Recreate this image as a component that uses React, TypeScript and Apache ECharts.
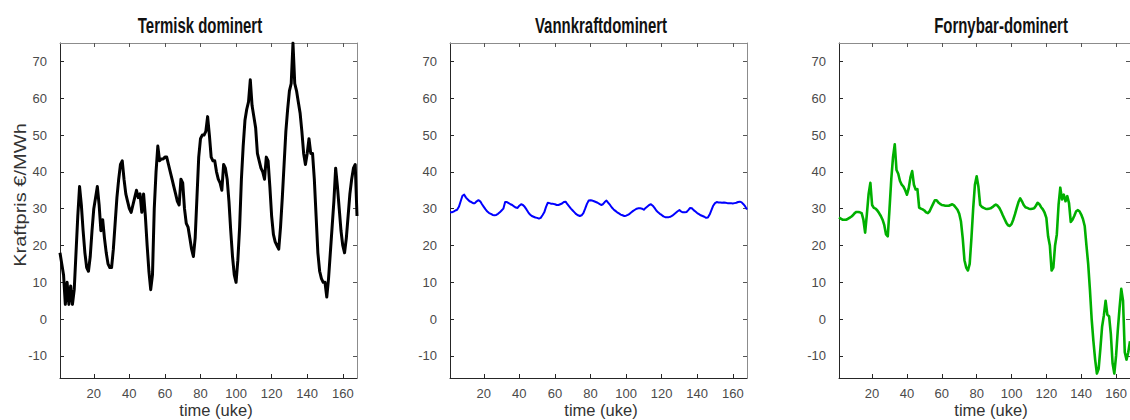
import React, { useEffect, useRef } from "react";
import * as echarts from "echarts";

const weeks: number[] = Array.from({ length: 168 }, (_, i) => i + 1);

const titles = ["Termisk dominert", "Vannkraftdominert", "Fornybar-dominert"];
const xTicks = [20, 40, 60, 80, 100, 120, 140, 160];
const yTicks = [-10, 0, 10, 20, 30, 40, 50, 60, 70];
const xName = "time (uke)";
const yName = "Kraftpris €/MWh";

const termisk = [
  18, 15, 12, 4, 10, 4, 9, 4, 8, 18, 28, 36, 31, 24, 18, 14, 13, 17, 24, 30,
  33, 36, 31, 24, 27, 22, 18, 15, 14, 14, 19, 26, 33, 38, 42, 43, 38, 34, 32, 30,
  29, 31, 33, 35, 33, 34, 29, 34, 28, 20, 13, 8, 12, 30, 40, 47, 43, 43.5, 43.5, 44,
  44, 42, 40, 38, 36, 34, 32, 31, 38, 37, 30, 26, 25, 22, 19, 17, 22, 33, 44, 49,
  50, 50, 51, 55, 50, 44, 43, 43, 40, 38, 37, 35, 42, 41, 38, 32, 24, 17, 12, 10,
  16, 25, 38, 47, 54, 57, 59, 65, 58, 55, 52, 45, 43, 41, 40, 38, 44, 43, 36, 28,
  23, 21, 20, 19, 25, 33, 42, 51, 57, 62, 64, 75, 64, 62, 59, 56, 51, 45, 42, 45,
  49, 45, 45, 38, 28, 18, 13, 11, 10, 10, 6, 11, 18, 25, 32, 41, 36, 30, 24, 20,
  18, 22, 28, 34, 38, 41, 42, 28,
];

const vannkraft = [
  29, 29, 29.2, 29.5, 29.7, 30.5, 32, 33.5, 33.8, 33, 32.5, 32, 31.8, 31.5, 31.5, 32, 32.3, 32, 31.2, 30.5,
  29.8, 29.2, 28.8, 28.6, 28.3, 28.2, 28.3, 28.6, 29, 29.5, 30, 31.8, 31.8, 31.5, 31.2, 31, 30.6, 30.3, 30.2, 30.8,
  31.2, 31, 30.5, 29.8, 29, 28.4, 28, 27.8, 27.6, 27.5, 27.3, 27.5, 28.2, 29, 30.5, 31.6, 31.5, 31.3, 31.3, 31.2,
  31, 31, 31.2, 31.4, 31.8, 31.9, 31.2, 30.6, 30, 29.5, 29, 28.5, 28.2, 28, 28.2, 28.8, 30, 31.3, 32.2, 32.3,
  32.2, 32, 31.8, 31.6, 31.3, 31, 31.2, 31.8, 32.2, 31.6, 31, 30.3, 29.8, 29.4, 29, 28.7, 28.4, 28.2, 28, 28.1,
  28.3, 28.6, 29, 29.4, 29.7, 30, 30.1, 30.1, 30, 29.7, 30.2, 30.6, 31, 31.2, 30.8, 30.2, 29.5, 29, 28.6, 28.3,
  27.9, 27.7, 27.7, 27.7, 27.8, 28.1, 28.5, 28.9, 29.3, 29.6, 29.2, 29, 29, 29.1, 29.6, 30.2, 30.1, 29.6, 29.2, 28.8,
  28.5, 28.2, 28, 27.8, 27.5, 27.6, 28.4, 29.6, 30.8, 31.5, 31.8, 31.7, 31.7, 31.6, 31.7, 31.6, 31.5, 31.5, 31.5, 31.4,
  31.5, 31.6, 31.8, 31.9, 31.7, 31.2, 30.6, 29.8,
];

const fornybar = [
  27.6, 27.3, 27, 27, 27, 27.2, 27.5, 27.8, 28.2, 28.8, 29.1, 29.1, 29, 28.8, 27, 23.5, 28.5, 34, 37, 31,
  30.2, 30, 29.5, 28.8, 28, 27, 25.5, 23, 22.5, 30, 38, 44, 47.5, 40.5, 39.5, 37.5, 36.5, 36, 35, 33.8,
  35.5, 38.5, 40.2, 36.5, 35.2, 35.3, 30.3, 30, 29.8, 29.5, 29, 28.8, 29.3, 30.3, 31.3, 32.3, 32.3, 31.7, 31.3, 31,
  30.9, 30.8, 30.8, 30.8, 31, 31.2, 30.9, 30.3, 29.7, 28.6, 26.5, 22, 16, 14, 13.2, 15, 22, 30, 36.5, 38.8,
  36, 31, 30.5, 30.2, 30, 29.9, 30, 30.1, 30.4, 30.8, 31.1, 30.8, 30.2, 29.3, 28.2, 27.2, 26.2, 25.5, 25.3, 25.8,
  27, 28.5, 30.2, 31.8, 32.8, 32, 31, 30.4, 30.2, 30, 29.9, 30, 30.1, 30.8, 31.6, 31.2, 30.4, 29.8, 28.9, 27.5,
  22.5, 20, 13.2, 14, 20, 23, 31, 35.7, 32.5, 33.8, 32, 33.4, 31.5, 26.4, 27, 28, 29.2, 29.6, 29.3, 28.4,
  27.2, 25.3, 20, 15, 8, 0, -6, -11, -14.8, -13.5, -8, -2, 1, 5, 1.2, 0.8, -4, -12, -14.8, -10,
  -3, 3, 8.2, 5, -9, -11, -9, -6,
];

const seriesValues = [termisk, vannkraft, fornybar];
const colors = ["#000000", "#0000ff", "#00b000"];
const widths = [3, 2, 2.6];

const gridLefts = [60, 450, 839];
const gridWidth = 297;
const gridTop = 43;
const gridHeight = 335;
const titleCenters = [200, 601, 1001];
const xNameCenters = [216, 601, 991];

export default function App() {
  const ref = useRef<HTMLDivElement>(null);
  useEffect(() => {
    if (!ref.current) return;
    const chart = echarts.init(ref.current, undefined, { renderer: "svg" });
    const grids: any[] = [];
    const xAxes: any[] = [];
    const yAxes: any[] = [];
    const series: any[] = [];
    const labelStyle = { color: "#4a4a4a", fontSize: 13, fontFamily: "Liberation Sans, Arial, sans-serif" };
    for (let i = 0; i < 3; i++) {
      grids.push({ left: gridLefts[i], top: gridTop, width: gridWidth, height: gridHeight, containLabel: false });
      xAxes.push({
        type: "value", gridIndex: i, position: "bottom", min: 1, max: 168,
        axisLine: { show: true, onZero: false, lineStyle: { color: "#262626", width: 1 } },
        axisTick: { show: true, inside: true, length: 4, customValues: xTicks, lineStyle: { color: "#262626" } },
        axisLabel: { show: true, customValues: xTicks, margin: 9, ...labelStyle },
        splitLine: { show: false },
      });
      xAxes.push({
        type: "value", gridIndex: i, position: "top", min: 1, max: 168,
        axisLine: { show: true, onZero: false, lineStyle: { color: "#8c8c8c", width: 1 } },
        axisTick: { show: true, inside: true, length: 4, customValues: xTicks, lineStyle: { color: "#555" } },
        axisLabel: { show: false },
        splitLine: { show: false },
      });
      yAxes.push({
        type: "value", gridIndex: i, position: "left", min: -16, max: 75,
        axisLine: { show: true, onZero: false, lineStyle: { color: "#262626", width: 1 } },
        axisTick: { show: true, inside: true, length: 4, customValues: yTicks, lineStyle: { color: "#262626" } },
        axisLabel: { show: true, customValues: yTicks, margin: 13, ...labelStyle },
        splitLine: { show: false },
      });
      yAxes.push({
        type: "value", gridIndex: i, position: "right", min: -16, max: 75,
        axisLine: { show: true, onZero: false, lineStyle: { color: "#8c8c8c", width: 1 } },
        axisTick: { show: true, inside: true, length: 4, customValues: yTicks, lineStyle: { color: "#555" } },
        axisLabel: { show: false },
        splitLine: { show: false },
      });
      series.push({
        type: "line",
        xAxisIndex: i * 2,
        yAxisIndex: i * 2,
        data: weeks.map((w, k) => [w, seriesValues[i][k]]),
        showSymbol: false,
        symbol: "none",
        clip: true,
        lineStyle: { color: colors[i], width: widths[i], join: "round" },
      });
    }
    const graphics: any[] = [];
    titles.forEach((t, i) => {
      graphics.push({
        type: "text",
        x: titleCenters[i],
        y: 25,
        scaleX: 0.68,
        style: {
          text: t,
          fill: "#111",
          align: "center",
          verticalAlign: "middle",
          font: "bold 22px 'Liberation Sans', Arial, sans-serif",
        },
      });
      graphics.push({
        type: "text",
        x: xNameCenters[i],
        y: 410,
        style: {
          text: xName,
          fill: "#333",
          align: "center",
          verticalAlign: "middle",
          font: "16.5px 'Liberation Sans', Arial, sans-serif",
        },
      });
    });
    graphics.push({
      type: "text",
      x: 20,
      y: 195,
      rotation: Math.PI / 2,
      scaleX: 1.18,
      style: {
        text: yName,
        fill: "#333",
        align: "center",
        verticalAlign: "middle",
        font: "17px 'Liberation Sans', Arial, sans-serif",
      },
    });
    chart.setOption({
      animation: false,
      backgroundColor: "#ffffff",
      grid: grids,
      xAxis: xAxes,
      yAxis: yAxes,
      series,
      graphic: graphics,
    });
    return () => chart.dispose();
  }, []);
  return (
    <div
      ref={ref}
      style={{ position: "absolute", left: 0, top: 0, width: 1130, height: 420 }}
    />
  );
}
